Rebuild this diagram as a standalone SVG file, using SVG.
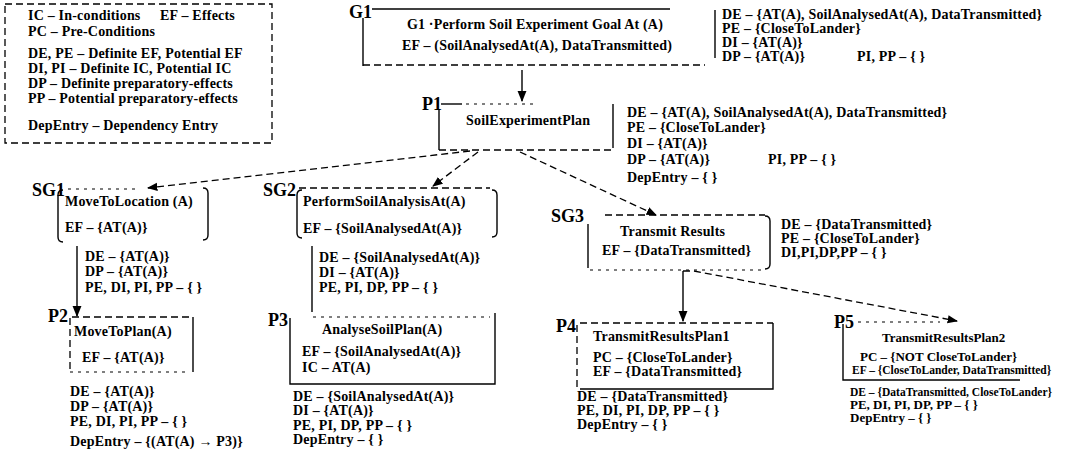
<svg xmlns="http://www.w3.org/2000/svg" width="1077" height="453" viewBox="0 0 1077 453">
<defs>
<style>
text{font-family:"Liberation Serif","Times New Roman",serif;font-weight:bold;font-size:14px;letter-spacing:0.2px;fill:#000}
.lbl{font-size:18px;letter-spacing:0}
.sm{font-size:13px;letter-spacing:0}
.xs{font-size:11.5px;letter-spacing:0}
.s{fill:none;stroke:#000;stroke-width:1.4}
.d{fill:none;stroke:#000;stroke-width:1.3;stroke-dasharray:7 4}
.ds{fill:none;stroke:#000;stroke-width:1.2;stroke-dasharray:3 5}
</style>
<marker id="ah" viewBox="0 0 10 10" refX="9" refY="5" markerWidth="8" markerHeight="8" orient="auto-start-reverse">
<path d="M0,1 L10,5 L0,9 Z" fill="#000"/>
</marker>
</defs>
<rect width="1077" height="453" fill="#fff"/>

<g id="legend">
<rect x="5" y="4" width="267" height="139" class="d"/>
<text x="28" y="20">IC – In-conditions</text><text x="160" y="20">EF – Effects</text>
<text x="28" y="36">PC – Pre-Conditions</text>
<text x="28" y="58">DE, PE – Definite EF, Potential EF</text>
<text x="28" y="73">DI, PI – Definite IC, Potential IC</text>
<text x="28" y="88">DP – Definite preparatory-effects</text>
<text x="28" y="103">PP – Potential preparatory-effects</text>
<text x="28" y="130">DepEntry – Dependency Entry</text>
</g>

<g id="G1">
<text x="349" y="18" class="lbl">G1</text>
<path d="M372,9 H670" class="s"/>
<path d="M363,18 V66" class="s"/>
<path d="M363,65 H705" class="d"/>
<text x="407" y="29" textLength="256">G1 ·Perform Soil Experiment Goal At (A)</text>
<text x="402" y="50" textLength="270">EF – (SoilAnalysedAt(A), DataTransmitted)</text>
<path d="M715,10 V58" class="s"/>
<text x="722" y="19">DE – {AT(A), SoilAnalysedAt(A), DataTransmitted}</text>
<text x="722" y="33">PE – {CloseToLander}</text>
<text x="722" y="47">DI – {AT(A)}</text>
<text x="722" y="61">DP – {AT(A)}</text><text x="857" y="61">PI, PP – { }</text>
</g>

<g id="P1">
<text x="422" y="110" class="lbl">P1</text>
<path d="M441,104 H462" class="s"/>
<path d="M466,104 H535" class="ds"/>
<path d="M439,110 V150" class="s"/>
<path d="M439,150 H613" class="d"/>
<path d="M613,104 V148" class="s"/>
<text x="466" y="125">SoilExperimentPlan</text>
<text x="627" y="117">DE – {AT(A), SoilAnalysedAt(A), DataTransmitted}</text>
<text x="627" y="132">PE – {CloseToLander}</text>
<text x="627" y="148">DI – {AT(A)}</text>
<text x="627" y="164">DP – {AT(A)}</text><text x="768" y="164">PI, PP – { }</text>
<text x="627" y="182">DepEntry – { }</text>
</g>

<g id="SG1">
<text x="32" y="196" class="lbl">SG1</text>
<path d="M68,189 H140" class="ds"/>
<path d="M63,190 Q58,190 58,195 V237 Q58,242 63,242" class="s"/>
<path d="M203,188 Q208,188 208,193 V235 Q208,240 203,240" class="s"/>
<text x="65" y="206">MoveToLocation (A)</text>
<text x="65" y="232">EF – {AT(A)}</text>
<text x="85" y="261">DE – {AT(A)}</text>
<text x="85" y="276">DP – {AT(A)}</text>
<text x="85" y="292">PE, DI, PI, PP – { }</text>
</g>

<g id="SG2">
<text x="263" y="196" class="lbl">SG2</text>
<path d="M299,188 H490" class="d"/>
<path d="M302,190 Q297,190 297,195 V233 Q297,238 302,238" class="s"/>
<path d="M492,190 Q497,190 497,195 V232 Q497,237 492,237" class="s"/>
<text x="303" y="206">PerformSoilAnalysisAt(A)</text>
<text x="303" y="233">EF – {SoilAnalysedAt(A)}</text>
<text x="319" y="262">DE – {SoilAnalysedAt(A)}</text>
<text x="319" y="277">DI – {AT(A)}</text>
<text x="319" y="292">PE, PI, DP, PP – { }</text>
</g>

<g id="SG3">
<text x="551" y="222" class="lbl">SG3</text>
<path d="M605,215 H765" class="d"/>
<path d="M588,224 V268" class="s"/>
<path d="M590,270 H765" class="ds"/>
<path d="M765,216 Q770,216 770,221 V264 Q770,269 765,269" class="s"/>
<text x="620" y="236">Transmit Results</text>
<text x="602" y="255">EF – {DataTransmitted}</text>
<text x="781" y="229">DE – {DataTransmitted}</text>
<text x="781" y="243">PE – {CloseToLander}</text>
<text x="781" y="257">DI,PI,DP,PP – { }</text>
</g>

<g id="P2">
<text x="48" y="322" class="lbl">P2</text>
<path d="M72,317 H193" class="d"/>
<path d="M70,318 V372" class="d"/>
<path d="M193,317 V372" class="s"/>
<path d="M70,372 H190" class="ds"/>
<text x="74" y="336">MoveToPlan(A)</text>
<text x="82" y="362">EF – {AT(A)}</text>
<text x="70" y="396">DE – {AT(A)}</text>
<text x="70" y="411">DP – {AT(A)}</text>
<text x="70" y="426">PE, DI, PI, PP – { }</text>
<text x="70" y="446">DepEntry – {(AT(A)   → P3)}</text>
</g>

<g id="P3">
<text x="268" y="326" class="lbl">P3</text>
<path d="M313,317 H490" class="ds"/>
<path d="M290,318 V384 H495 V313" class="s"/>
<text x="322" y="334">AnalyseSoilPlan(A)</text>
<text x="302" y="356">EF – {SoilAnalysedAt(A)}</text>
<text x="302" y="372">IC – AT(A)</text>
<text x="293" y="401">DE – {SoilAnalysedAt(A)}</text>
<text x="293" y="415">DI – {AT(A)}</text>
<text x="293" y="430">PE, PI, DP, PP – { }</text>
<text x="293" y="444">DepEntry – { }</text>
</g>

<g id="P4">
<text x="556" y="332" class="lbl">P4</text>
<path d="M580,323 H773" class="d"/>
<path d="M577,325 V389" class="d"/>
<path d="M773,323 V389 H580" class="s"/>
<text x="593" y="341">TransmitResultsPlan1</text>
<text x="593" y="362">PC – {CloseToLander}</text>
<text x="593" y="376">EF – {DataTransmitted}</text>
<text x="577" y="401">DE – {DataTransmitted}</text>
<text x="577" y="415">PE, DI, PI, DP, PP – { }</text>
<text x="577" y="429">DepEntry – { }</text>
</g>

<g id="P5">
<text x="834" y="328" class="lbl">P5</text>
<path d="M858,322 H940" class="ds"/>
<path d="M843,324 V380 H1020" class="s"/>
<text x="882" y="342" class="sm">TransmitResultsPlan2</text>
<text x="860" y="361" class="sm">PC – {NOT CloseToLander}</text>
<text x="852" y="374" class="xs">EF – {CloseToLander, DataTransmitted}</text>
<text x="850" y="396" class="xs">DE – {DataTransmitted, CloseToLander}</text>
<text x="850" y="409" class="sm">PE, DI, PI, DP, PP – { }</text>
<text x="850" y="422" class="sm">DepEntry – { }</text>
</g>

<g id="connectors">
<path d="M522,70 V101" class="s" marker-end="url(#ah)"/>
<path d="M470,151 L148,188" class="d" marker-end="url(#ah)"/>
<path d="M478,152 L433,186" class="d" marker-end="url(#ah)"/>
<path d="M520,152 L656,215" class="d" marker-end="url(#ah)"/>
<path d="M77,246 V316" class="s" marker-end="url(#ah)"/>
<path d="M312,246 V312" class="s"/>
<path d="M683,271 V321" class="s" marker-end="url(#ah)"/>
<path d="M683,271 H694 L957,321" class="d" marker-end="url(#ah)"/>
</g>
</svg>
